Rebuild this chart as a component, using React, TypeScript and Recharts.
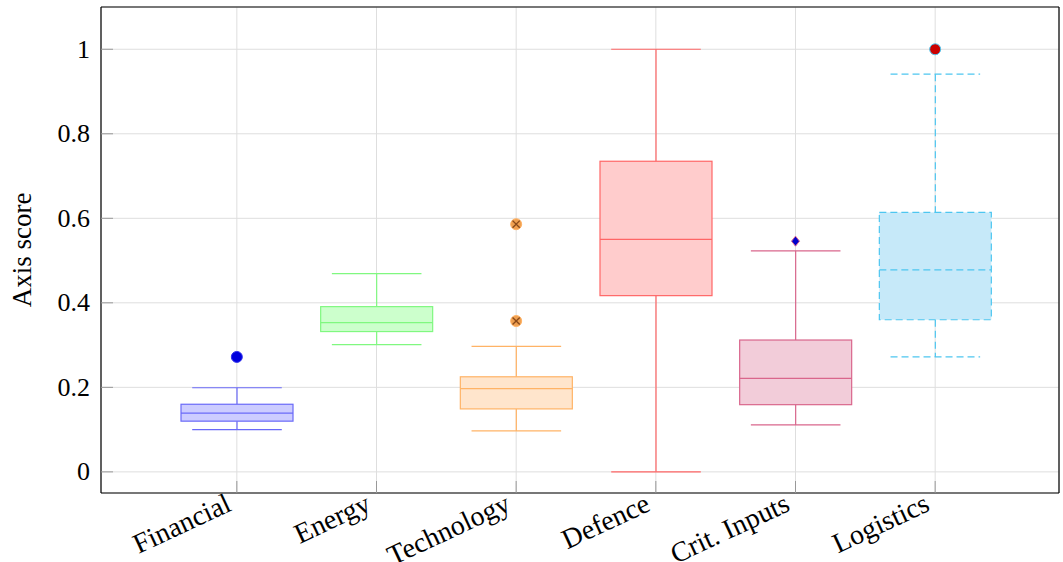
import React from 'react';
import { ComposedChart, Bar, Scatter, XAxis, YAxis, CartesianGrid } from 'recharts';

// box plot statistics
const categories = ['Financial', 'Energy', 'Technology', 'Defence', 'Crit. Inputs', 'Logistics'];
const lowerWhiskers = [0.1, 0.301, 0.097, 0.0, 0.111, 0.272];
const lowerQuartiles = [0.12, 0.332, 0.149, 0.417, 0.159, 0.36];
const medians = [0.139, 0.353, 0.197, 0.55, 0.221, 0.478];
const upperQuartiles = [0.16, 0.391, 0.225, 0.735, 0.312, 0.614];
const upperWhiskers = [0.199, 0.469, 0.297, 1.0, 0.523, 0.941];

const financialOutliers = [{ name: 'Financial', value: 0.272 }];
const technologyOutliers = [
  { name: 'Technology', value: 0.586 },
  { name: 'Technology', value: 0.357 },
];
const critInputsOutliers = [{ name: 'Crit. Inputs', value: 0.546 }];
const logisticsOutliers = [{ name: 'Logistics', value: 1.0 }];

const yTicks = [0, 0.2, 0.4, 0.6, 0.8, 1];

const STYLES: Record<string, { stroke: string; fill: string; dash?: string }> = {
  Financial: { stroke: '#6a6af8', fill: '#ccccff' },
  Energy: { stroke: '#80f880', fill: '#ccffcc' },
  Technology: { stroke: '#ffb366', fill: '#ffe5cc' },
  Defence: { stroke: '#ff6666', fill: '#ffcccc' },
  'Crit. Inputs': { stroke: '#d9668c', fill: '#f2ccd9' },
  Logistics: { stroke: '#4dc6f0', fill: '#c6e9f9', dash: '7 4' },
};

const data = categories.map((name, i) => ({
  name,
  min: lowerWhiskers[i],
  q1: lowerQuartiles[i],
  median: medians[i],
  q3: upperQuartiles[i],
  max: upperWhiskers[i],
}));

const FONT = '"Liberation Serif", "DejaVu Serif", serif';

const BoxShape = (props: any) => {
  const { x, y, width, height, payload } = props;
  const { min, q1, median, q3, max, name } = payload;
  const st = STYLES[name];
  // map a value onto the pixel range the bar was given for [min, max]
  const px = (v: number) => y + ((max - v) * height) / (max - min);
  const cx = x + width / 2;
  const cap = width * 0.4;
  const common = { stroke: st.stroke, strokeWidth: 1.2, strokeDasharray: st.dash };
  return (
    <g>
      <line x1={cx} x2={cx} y1={px(max)} y2={px(q3)} {...common} />
      <line x1={cx} x2={cx} y1={px(q1)} y2={px(min)} {...common} />
      <line x1={cx - cap} x2={cx + cap} y1={px(max)} y2={px(max)} {...common} />
      <line x1={cx - cap} x2={cx + cap} y1={px(min)} y2={px(min)} {...common} />
      <rect x={x} y={px(q3)} width={width} height={px(q1) - px(q3)} fill={st.fill} {...common} />
      <line x1={x} x2={x + width} y1={px(median)} y2={px(median)} {...common} />
    </g>
  );
};

const XTick = ({ x, y, payload }: any) => (
  <g>
    <line x1={x} x2={x} y1={y - 4} y2={y - 16} stroke="#999" strokeWidth={1} />
    <text
      textAnchor="end"
      transform={`translate(${x - 4},${y + 13}) rotate(-25)`}
      fontFamily={FONT}
      fontSize={28}
      fill="#000"
    >
      {payload.value}
    </text>
  </g>
);

const YTick = ({ x, y, payload }: any) => (
  <g>
    <line x1={x + 11} x2={x + 23} y1={y} y2={y} stroke="#999" strokeWidth={1} />
    <text x={x} y={y} textAnchor="end" dominantBaseline="central" fontFamily={FONT} fontSize={26} fill="#000">
      {String(payload.value)}
    </text>
  </g>
);

const YLabel = ({ viewBox }: any) => {
  const tx = viewBox.x + 22;
  const ty = viewBox.y + viewBox.height / 2;
  return (
    <text
      x={tx}
      y={ty}
      transform={`rotate(-90, ${tx}, ${ty})`}
      textAnchor="middle"
      dominantBaseline="central"
      fontFamily={FONT}
      fontSize={27}
      fill="#000"
    >
      Axis score
    </text>
  );
};

const dot = (fill: string, edge: string) => (p: any) => (
  <circle cx={p.cx} cy={p.cy} r={5.5} fill={fill} stroke={edge} strokeWidth={1} />
);

const otimes = (p: any) => {
  const d = 3.6;
  return (
    <g>
      <circle cx={p.cx} cy={p.cy} r={5.5} fill="#f0a050" stroke="#ffb366" strokeWidth={1} />
      <line x1={p.cx - d} y1={p.cy - d} x2={p.cx + d} y2={p.cy + d} stroke="#8a4a1a" strokeWidth={1.4} />
      <line x1={p.cx - d} y1={p.cy + d} x2={p.cx + d} y2={p.cy - d} stroke="#8a4a1a" strokeWidth={1.4} />
    </g>
  );
};

const diamond = (p: any) => (
  <polygon
    points={`${p.cx},${p.cy - 5} ${p.cx + 4},${p.cy} ${p.cx},${p.cy + 5} ${p.cx - 4},${p.cy}`}
    fill="#0000cc"
    stroke="#d9668c"
    strokeWidth={1}
  />
);

export default function App() {
  return (
    <div style={{ position: 'absolute', left: 0, top: 0, width: 1063, height: 562, background: '#fff' }}>
      <ComposedChart width={1063} height={562} data={data} margin={{ top: 7, right: 4, bottom: 0, left: 0 }}>
        <CartesianGrid stroke="#dedede" strokeWidth={1} />
        <XAxis
          dataKey="name"
          interval={0}
          allowDuplicatedCategory={false}
          height={69}
          padding={{ left: 66, right: 54 }}
          axisLine={{ stroke: '#000', strokeWidth: 1.2 }}
          tickLine={false}
          tickSize={0}
          tickMargin={4}
          tick={<XTick />}
        />
        <XAxis
          xAxisId="top"
          orientation="top"
          dataKey="name"
          interval={0}
          allowDuplicatedCategory={false}
          height={1}
          padding={{ left: 66, right: 54 }}
          mirror
          axisLine={{ stroke: '#000', strokeWidth: 1.2 }}
          tickLine={{ stroke: '#999' }}
          tickSize={12}
          tick={false}
        />
        <YAxis
          type="number"
          domain={[-0.05, 1.1]}
          ticks={yTicks}
          width={101}
          axisLine={{ stroke: '#000', strokeWidth: 1.2 }}
          tickLine={false}
          tickSize={0}
          tickMargin={11}
          tick={<YTick />}
          label={{ content: <YLabel /> }}
        />
        <YAxis
          yAxisId="right"
          orientation="right"
          type="number"
          domain={[-0.05, 1.1]}
          ticks={yTicks}
          width={1}
          mirror
          axisLine={{ stroke: '#000', strokeWidth: 1.2 }}
          tickLine={{ stroke: '#999' }}
          tickSize={12}
          tick={false}
        />
        <Bar dataKey={(d: any) => [d.min, d.max]} barSize={112} shape={<BoxShape />} isAnimationActive={false} />
        <Scatter data={financialOutliers} dataKey="value" shape={dot('#0000dd', '#3333ee')} isAnimationActive={false} />
        <Scatter data={technologyOutliers} dataKey="value" shape={otimes} isAnimationActive={false} />
        <Scatter data={critInputsOutliers} dataKey="value" shape={diamond} isAnimationActive={false} />
        <Scatter data={logisticsOutliers} dataKey="value" shape={dot('#cc0000', '#4dc6f0')} isAnimationActive={false} />
      </ComposedChart>
    </div>
  );
}
